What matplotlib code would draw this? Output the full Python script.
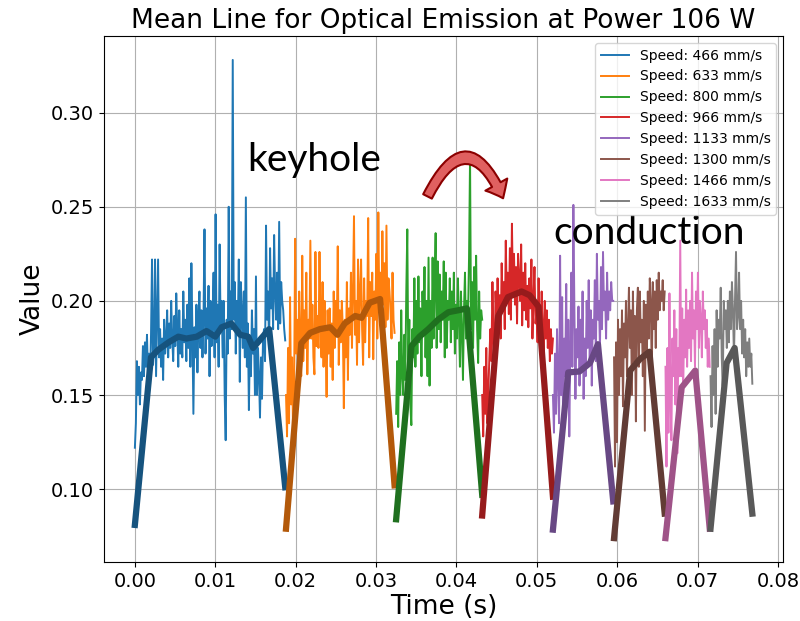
import numpy as np
import matplotlib
matplotlib.use("Agg")
import matplotlib.pyplot as plt
from matplotlib import font_manager, colors as mcolors

# scan speeds (mm/s), one segment each
speeds = [466, 633, 800, 966, 1133, 1300, 1466, 1633]
seg_colors = ['tab:blue', 'tab:orange', 'tab:green', 'tab:red',
              'tab:purple', 'tab:brown', 'tab:pink', 'tab:gray']

# start / end time of every segment (s)
seg_start = [0.0, 0.0188, 0.0325, 0.0432, 0.0520, 0.0596, 0.0660, 0.0716]
seg_end = [0.0187, 0.0323, 0.0432, 0.0520, 0.0595, 0.0659, 0.0715, 0.0768]

# raw optical emission signal
raw_466 = [0.122, 0.135, 0.168, 0.150, 0.165, 0.145, 0.162, 0.158,
           0.176, 0.160, 0.178, 0.165, 0.182, 0.160, 0.172, 0.155,
           0.182, 0.222, 0.166, 0.175, 0.222, 0.160, 0.190, 0.222,
           0.170, 0.185, 0.165, 0.180, 0.158, 0.190, 0.172, 0.180,
           0.195, 0.170, 0.188, 0.175, 0.200, 0.180, 0.168, 0.192,
           0.176, 0.204, 0.186, 0.165, 0.195, 0.172, 0.185, 0.170,
           0.205, 0.178, 0.190, 0.168, 0.198, 0.175, 0.212, 0.165,
           0.220, 0.185, 0.140, 0.186, 0.170, 0.198, 0.162, 0.190,
           0.205, 0.175, 0.195, 0.170, 0.190, 0.238, 0.172, 0.196,
           0.180, 0.208, 0.160, 0.200, 0.176, 0.192, 0.215, 0.170,
           0.246, 0.178, 0.198, 0.165, 0.230, 0.185, 0.200, 0.170,
           0.200, 0.150, 0.126, 0.190, 0.172, 0.250, 0.180, 0.205,
           0.185, 0.328, 0.190, 0.210, 0.172, 0.200, 0.185, 0.222,
           0.157, 0.210, 0.195, 0.175, 0.205, 0.170, 0.255, 0.165,
           0.188, 0.142, 0.178, 0.160, 0.195, 0.172, 0.185, 0.150,
           0.213, 0.150, 0.175, 0.160, 0.138, 0.170, 0.148, 0.180,
           0.185, 0.168, 0.240, 0.190, 0.205, 0.175, 0.228, 0.196,
           0.212, 0.185, 0.235, 0.205, 0.190, 0.215, 0.185, 0.242,
           0.188, 0.210, 0.200, 0.195, 0.185, 0.179]
raw_633 = [0.150, 0.128, 0.175, 0.135, 0.202, 0.145, 0.170, 0.125,
           0.158, 0.233, 0.172, 0.190, 0.165, 0.205, 0.178, 0.160,
           0.224, 0.168, 0.195, 0.175, 0.215, 0.161, 0.190, 0.180,
           0.232, 0.180, 0.198, 0.170, 0.161, 0.226, 0.176, 0.192,
           0.175, 0.226, 0.185, 0.170, 0.210, 0.165, 0.200, 0.180,
           0.149, 0.195, 0.172, 0.196, 0.165, 0.188, 0.158, 0.205,
           0.175, 0.200, 0.182, 0.229, 0.166, 0.195, 0.178, 0.200,
           0.185, 0.143, 0.190, 0.170, 0.210, 0.158, 0.196, 0.182,
           0.215, 0.175, 0.205, 0.245, 0.182, 0.200, 0.166, 0.222,
           0.178, 0.205, 0.222, 0.185, 0.166, 0.212, 0.178, 0.200,
           0.192, 0.244, 0.170, 0.210, 0.192, 0.215, 0.169, 0.205,
           0.190, 0.225, 0.180, 0.247, 0.195, 0.215, 0.190, 0.237,
           0.198, 0.220, 0.186, 0.240, 0.190, 0.212, 0.205, 0.195,
           0.180, 0.215, 0.190, 0.183]
raw_800 = [0.140, 0.168, 0.133, 0.178, 0.150, 0.195, 0.160, 0.150,
           0.182, 0.158, 0.205, 0.238, 0.165, 0.190, 0.145, 0.134,
           0.185, 0.170, 0.212, 0.165, 0.200, 0.172, 0.213, 0.178,
           0.196, 0.160, 0.205, 0.184, 0.218, 0.170, 0.200, 0.160,
           0.223, 0.155, 0.200, 0.175, 0.223, 0.180, 0.210, 0.236,
           0.175, 0.221, 0.185, 0.214, 0.178, 0.205, 0.190, 0.221,
           0.170, 0.215, 0.175, 0.200, 0.190, 0.212, 0.178, 0.205,
           0.185, 0.215, 0.172, 0.198, 0.180, 0.212, 0.190, 0.165,
           0.205, 0.185, 0.158, 0.195, 0.215, 0.180, 0.200, 0.192,
           0.223, 0.276, 0.185, 0.210, 0.175, 0.218, 0.190, 0.224,
           0.185, 0.167, 0.205, 0.180, 0.195, 0.190]
raw_966 = [0.150, 0.128, 0.165, 0.140, 0.175, 0.135, 0.152, 0.170,
           0.185, 0.168, 0.210, 0.180, 0.160, 0.205, 0.190, 0.212,
           0.195, 0.203, 0.180, 0.220, 0.196, 0.210, 0.185, 0.232,
           0.200, 0.215, 0.193, 0.228, 0.190, 0.241, 0.205, 0.225,
           0.198, 0.218, 0.188, 0.225, 0.212, 0.200, 0.230, 0.187,
           0.215, 0.195, 0.220, 0.190, 0.208, 0.186, 0.212, 0.196,
           0.222, 0.180, 0.200, 0.218, 0.188, 0.195, 0.178, 0.212,
           0.190, 0.176, 0.205, 0.185, 0.172, 0.200, 0.180, 0.195,
           0.175, 0.190, 0.168, 0.185, 0.172, 0.180]
raw_1133 = [0.150, 0.130, 0.172, 0.140, 0.185, 0.158, 0.135, 0.224,
            0.150, 0.202, 0.127, 0.180, 0.160, 0.209, 0.145, 0.190,
            0.128, 0.175, 0.215, 0.165, 0.251, 0.195, 0.148, 0.185,
            0.170, 0.197, 0.155, 0.190, 0.165, 0.205, 0.148, 0.180,
            0.160, 0.200, 0.175, 0.211, 0.168, 0.195, 0.155, 0.190,
            0.180, 0.211, 0.168, 0.225, 0.190, 0.200, 0.175, 0.218,
            0.185, 0.226, 0.195, 0.205, 0.180, 0.215, 0.190, 0.205,
            0.195, 0.210, 0.200, 0.200]
raw_1300 = [0.170, 0.112, 0.178, 0.125, 0.190, 0.150, 0.185, 0.160,
            0.195, 0.144, 0.188, 0.170, 0.200, 0.160, 0.185, 0.207,
            0.175, 0.195, 0.150, 0.205, 0.168, 0.192, 0.136, 0.195,
            0.207, 0.165, 0.205, 0.178, 0.190, 0.160, 0.200, 0.131,
            0.198, 0.170, 0.205, 0.180, 0.212, 0.199, 0.160, 0.210,
            0.185, 0.205, 0.175, 0.211, 0.190, 0.215, 0.195, 0.205,
            0.200, 0.211, 0.195, 0.205]
raw_1466 = [0.165, 0.112, 0.175, 0.130, 0.204, 0.150, 0.126, 0.180,
            0.160, 0.195, 0.145, 0.185, 0.119, 0.175, 0.160, 0.232,
            0.160, 0.196, 0.151, 0.190, 0.170, 0.206, 0.165, 0.195,
            0.175, 0.200, 0.168, 0.215, 0.180, 0.195, 0.165, 0.205,
            0.185, 0.215, 0.175, 0.200, 0.190, 0.170, 0.205, 0.185,
            0.195, 0.175, 0.190, 0.165, 0.180, 0.165]
raw_1633 = [0.160, 0.133, 0.176, 0.150, 0.185, 0.140, 0.195, 0.165,
            0.190, 0.180, 0.207, 0.170, 0.155, 0.200, 0.185, 0.195,
            0.175, 0.200, 0.178, 0.205, 0.185, 0.210, 0.195, 0.170,
            0.200, 0.226, 0.185, 0.192, 0.215, 0.185, 0.200, 0.172,
            0.190, 0.170, 0.185, 0.160, 0.178, 0.165, 0.180, 0.165,
            0.172, 0.156]
raw_signals = [raw_466, raw_633, raw_800, raw_966,
               raw_1133, raw_1300, raw_1466, raw_1633]

# mean line of every segment: (time, value) pairs
mean_t = [
    [0.0, 0.0020, 0.0029, 0.0042, 0.0054, 0.0064, 0.0077, 0.0089, 0.0100,
     0.0108, 0.0120, 0.0131, 0.0141, 0.0147, 0.0155, 0.0167, 0.0187],
    [0.0188, 0.0207, 0.0218, 0.0230, 0.0243, 0.0252, 0.0261, 0.0274, 0.0282,
     0.0292, 0.0305, 0.0323],
    [0.0325, 0.0344, 0.0354, 0.0365, 0.0377, 0.0390, 0.0402, 0.0413, 0.0432],
    [0.0432, 0.0452, 0.0464, 0.0481, 0.0491, 0.0502, 0.0520],
    [0.0520, 0.0539, 0.0553, 0.0566, 0.0576, 0.0595],
    [0.0596, 0.0616, 0.0628, 0.0640, 0.0659],
    [0.0660, 0.0680, 0.0697, 0.0715],
    [0.0716, 0.0736, 0.0746, 0.0768],
]
mean_v = [
    [0.081, 0.170, 0.174, 0.178, 0.181, 0.180, 0.181, 0.184, 0.181,
     0.186, 0.188, 0.182, 0.181, 0.175, 0.179, 0.185, 0.101],
    [0.079, 0.1775, 0.183, 0.185, 0.186, 0.182, 0.188, 0.192, 0.191,
     0.199, 0.201, 0.102],
    [0.084, 0.176, 0.181, 0.185, 0.190, 0.194, 0.195, 0.196, 0.097],
    [0.086, 0.192, 0.202, 0.205, 0.203, 0.197, 0.096],
    [0.0785, 0.162, 0.1625, 0.167, 0.177, 0.0935],
    [0.074, 0.163, 0.169, 0.173, 0.087],
    [0.074, 0.154, 0.163, 0.079],
    [0.079, 0.167, 0.175, 0.087],
]

# narrow font if there is one, the picture has squeezed text
names = {f.name for f in font_manager.fontManager.ttflist}
base_font = 'Liberation Sans Narrow' if 'Liberation Sans Narrow' in names else 'DejaVu Sans'
plt.rcParams['font.family'] = [base_font, 'DejaVu Sans']


def darker(c, f=0.7):
    r, g, b = mcolors.to_rgb(c)
    return (r * f, g * f, b * f)


fig = plt.figure(figsize=(8, 6.21), dpi=100)
ax = fig.add_axes([0.13, 0.095, 0.849, 0.847])

for spd, col, t0, t1, raw, mt, mv in zip(speeds, seg_colors, seg_start, seg_end,
                                          raw_signals, mean_t, mean_v):
    t = np.linspace(t0, t1, len(raw))
    ax.plot(t, raw, color=col, lw=1.4, label=f'Speed: {spd} mm/s')
    ax.plot(mt, mv, color=darker(col), lw=4.5)

ax.set_title('Mean Line for Optical Emission at Power 106 W', fontsize=19)
ax.set_xlabel('Time (s)', fontsize=19, labelpad=2)
ax.set_ylabel('Value', fontsize=19)
ax.tick_params(labelsize=14)
ax.set_yticks([0.10, 0.15, 0.20, 0.25, 0.30])
ax.grid(True)
ax.legend(loc='upper right', fontsize=10)

# slide annotations
ax.text(0.0140, 0.2748, 'keyhole', fontsize=28, family='Lato', va='center')
ax.text(0.0520, 0.2360, 'conduction', fontsize=28, family='Lato', va='center')
ax.annotate('', xy=(0.0458, 0.2545), xytext=(0.0364, 0.2555),
            arrowprops=dict(arrowstyle='simple,head_length=11,head_width=18,tail_width=7',
                            connectionstyle='arc3,rad=-1.05', mutation_scale=1,
                            fc='#e06060', ec='#8b0000', lw=1.5,
                            shrinkA=0, shrinkB=0))

fig.savefig('out.png', dpi=100)
